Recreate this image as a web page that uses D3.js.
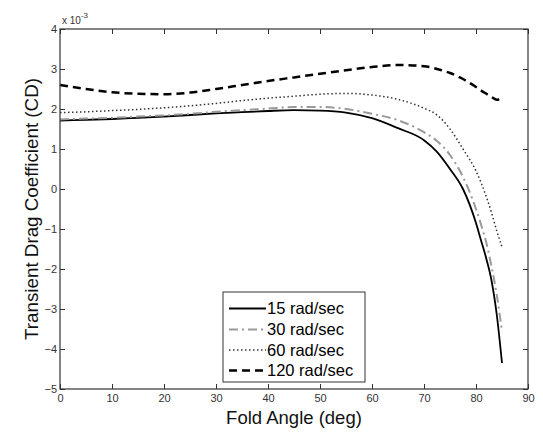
<!DOCTYPE html>
<html><head><meta charset="utf-8">
<script src="https://cdn.jsdelivr.net/npm/d3@7"></script>
<style>body{margin:0;background:#fff}svg{display:block}</style>
</head><body>
<script>
const angles = [0,5,10,15,20,25,30,35,40,45,50,55,60,65,70,72.5,75,77.5,80,81,82,83,84,85];
const cd15  = [1.71,1.73,1.75,1.78,1.81,1.85,1.89,1.92,1.95,1.97,1.96,1.91,1.77,1.52,1.22,0.93,0.5,0.0,-0.85,-1.3,-1.75,-2.3,-3.15,-4.35];
const cd30  = [1.74,1.76,1.78,1.81,1.84,1.88,1.93,1.97,2.01,2.05,2.05,2.0,1.88,1.72,1.42,1.2,0.85,0.3,-0.5,-0.9,-1.35,-1.95,-2.65,-3.57];
const cd60  = [1.91,1.93,1.96,1.99,2.03,2.08,2.14,2.21,2.27,2.32,2.37,2.39,2.35,2.24,2.02,1.85,1.5,1.0,0.45,0.15,-0.2,-0.6,-1.05,-1.45];
const cd120 = [2.6,2.5,2.42,2.38,2.37,2.41,2.5,2.6,2.7,2.79,2.88,2.97,3.05,3.1,3.07,3.0,2.9,2.75,2.55,2.46,2.38,2.3,2.23,2.3];
const seriesNames = ["15 rad/sec","30 rad/sec","60 rad/sec","120 rad/sec"];
const xTicks = [0,10,20,30,40,50,60,70,80,90];
const yTicks = [-5,-4,-3,-2,-1,0,1,2,3,4];

const W = 543, H = 432;
const m = {l:60, r:543-528, t:29, b:432-389};
const svg = d3.select("body").append("svg").attr("width",W).attr("height",H);
const x = d3.scaleLinear().domain([0,90]).range([m.l, W-m.r]);
const y = d3.scaleLinear().domain([-5,4]).range([H-m.b, m.t]);

const styles = [
  {stroke:"#000", width:1.8, dash:null},
  {stroke:"#9a9a9a", width:2, dash:"9,4,2,4"},
  {stroke:"#333", width:1.5, dash:"1.5,2.5"},
  {stroke:"#000", width:2.5, dash:"8,5"}
];
const allSeries = [cd15, cd30, cd60, cd120];

const line = d3.line().x(d=>x(d[0])).y(d=>y(d[1])).curve(d3.curveMonotoneX);
allSeries.forEach((s,i)=>{
  svg.append("path").datum(angles.map((a,j)=>[a,s[j]]))
    .attr("fill","none").attr("stroke",styles[i].stroke)
    .attr("stroke-width",styles[i].width)
    .attr("stroke-dasharray",styles[i].dash)
    .attr("d",line);
});

// axes box
const axColor = "#333";
function styleAxis(g, label){
  g.select(".domain").remove();
  g.selectAll(".tick line").attr("stroke",axColor);
  g.selectAll(".tick text").attr("fill","#333").style("font-family","Arial, 'Liberation Sans', sans-serif").style("font-size","11px");
  if(!label) g.selectAll(".tick text").remove();
}
svg.append("g").attr("transform",`translate(0,${H-m.b})`)
  .call(d3.axisBottom(x).tickValues(xTicks).tickSize(-5).tickPadding(5.5).tickFormat(d3.format("d")))
  .call(g=>styleAxis(g,true));
svg.append("g").attr("transform",`translate(0,${m.t})`)
  .call(d3.axisTop(x).tickValues(xTicks).tickSize(-5))
  .call(g=>styleAxis(g,false));
svg.append("g").attr("transform",`translate(${m.l},0)`)
  .call(d3.axisLeft(y).tickValues(yTicks).tickSize(-5).tickPadding(3).tickFormat(d3.format("d")))
  .call(g=>styleAxis(g,true));
svg.append("g").attr("transform",`translate(${W-m.r},0)`)
  .call(d3.axisRight(y).tickValues(yTicks).tickSize(-5))
  .call(g=>styleAxis(g,false));
svg.append("rect").attr("x",m.l).attr("y",m.t).attr("width",W-m.r-m.l).attr("height",H-m.b-m.t)
  .attr("fill","none").attr("stroke",axColor).attr("stroke-width",1.2);

// exponent label
const ex = svg.append("text").attr("x",62).attr("y",24).attr("fill","#333")
  .style("font-family","Arial, 'Liberation Sans', sans-serif").style("font-size","10px");
ex.append("tspan").text("x 10");
ex.append("tspan").attr("dy",-6).style("font-size","8px").text("-3");

// axis labels
svg.append("text").attr("x",(m.l+W-m.r)/2).attr("y",423.5).attr("text-anchor","middle")
  .style("font-family","Arial, 'Liberation Sans', sans-serif").style("font-size","18.5px").attr("fill","#111")
  .text("Fold Angle (deg)");
svg.append("text").attr("transform",`translate(38,${(m.t+H-m.b)/2}) rotate(-90)`).attr("text-anchor","middle")
  .style("font-family","Arial, 'Liberation Sans', sans-serif").style("font-size","18.8px").attr("fill","#111")
  .text("Transient Drag Coefficient (CD)");

// legend
const lg = svg.append("g");
lg.append("rect").attr("x",223).attr("y",292).attr("width",142).attr("height",90)
  .attr("fill","#fff").attr("stroke",axColor).attr("stroke-width",1);
const legY = [308.5,329.5,350,370.5];
seriesNames.forEach((n,i)=>{
  lg.append("line").attr("x1",229).attr("x2",266).attr("y1",legY[i]).attr("y2",legY[i])
    .attr("stroke",styles[i].stroke).attr("stroke-width",styles[i].width).attr("stroke-dasharray",styles[i].dash);
  lg.append("text").attr("x",267).attr("y",legY[i]).attr("dy","0.36em")
    .style("font-family","Arial, 'Liberation Sans', sans-serif").style("font-size","16.5px").attr("fill","#000")
    .text(n);
});
</script>
</body></html>
